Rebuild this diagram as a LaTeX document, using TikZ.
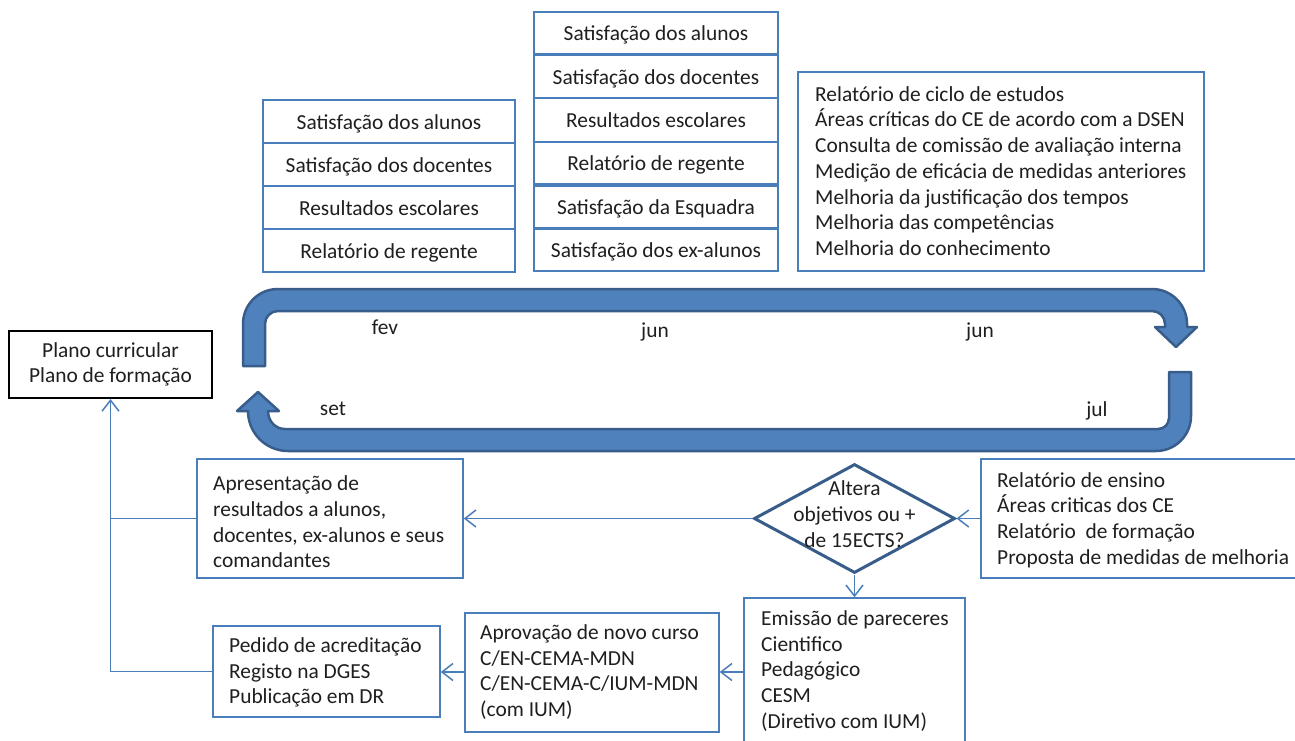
\documentclass[tikz,border=0pt]{standalone}
\usepackage{fontspec}
\setmainfont{Carlito}
\usetikzlibrary{arrows.meta,shapes.geometric}
\definecolor{boxblue}{HTML}{4A7EBB}
\definecolor{arrfill}{HTML}{4F81BD}
\definecolor{arrline}{HTML}{385D8A}
\definecolor{txt}{HTML}{1F1F1F}
\begin{document}
\begin{tikzpicture}[x=1pt,y=-1pt,
  every node/.style={font=\fontsize{21.4}{25.7}\selectfont, text=txt},
  bx/.style={draw=boxblue, line width=1.5pt, inner sep=0pt, align=center},
  one/.style={bx, text height=20pt, text depth=5pt},
  tx/.style={inner sep=0pt, align=left, anchor=west},
  conn/.style={draw=boxblue, line width=1.5pt},
  tip/.style={-{Straight Barb[length=11pt,width=17pt,line width=1.5pt]}},
  band/.style={fill=arrfill, draw=arrline, line width=2.5pt, line join=round},
  lab/.style={inner sep=0pt},
]
\useasboundingbox (0,0) rectangle (1295,740);
\clip (0,0) rectangle (1295,740);
\fill[white] (0,0) rectangle (1295,740);

% left stack
\node[one, minimum width=252pt, minimum height=43pt] (l1) at (389,121.5) {Satisfação dos alunos};
\node[one, minimum width=252pt, minimum height=43pt] (l2) at (389,164.5) {Satisfação dos docentes};
\node[one, minimum width=252pt, minimum height=43pt] (l3) at (389,207.5) {Resultados escolares};
\node[one, minimum width=252pt, minimum height=43pt] (l4) at (389,250.5) {Relatório de regente};

% middle stack
\node[one, minimum width=244pt, minimum height=42pt] (m1) at (656,33) {Satisfação dos alunos};
\node[one, minimum width=244pt, minimum height=43pt] (m2) at (656,76.5) {Satisfação dos docentes};
\node[one, minimum width=244pt, minimum height=44pt] (m3) at (656,120) {Resultados escolares};
\node[one, minimum width=244pt, minimum height=42pt] (m4) at (656,163) {Relatório de regente};
\node[one, minimum width=244pt, minimum height=42pt] (m5) at (656,207) {Satisfação da Esquadra};
\node[one, minimum width=244pt, minimum height=42pt] (m6) at (656,250) {Satisfação dos ex-alunos};

% right top box
\node[bx, minimum width=406pt, minimum height=199pt] (rb) at (1001,171.5) {};
\node[tx] (rbt) at (815,171) {Relatório de ciclo de estudos\\
Áreas críticas do CE de acordo com a DSEN\\
Consulta de comissão de avaliação interna\\
Medição de eficácia de medidas anteriores\\
Melhoria da justificação dos tempos\\
Melhoria das competências\\
Melhoria do conhecimento};

% big cycle arrows
\path[band] (243,366) -- (243,324) .. controls (243,304.7) and (258.3,289) .. (278,289)
  -- (1152,289) .. controls (1171.3,289) and (1187,304.7) .. (1187,324)
  -- (1187,327) -- (1197,327) -- (1176,347) -- (1155,327) -- (1165,327) -- (1165,324)
  .. controls (1165,316.8) and (1159.2,311) .. (1152,311)
  -- (278,311) .. controls (270.8,311) and (265,316.8) .. (265,324) -- (265,366) -- cycle;
\path[band] (1169,372) -- (1191,372) -- (1191,416) .. controls (1191,435.3) and (1175.3,451) .. (1156,451)
  -- (288,451) .. controls (265.9,451) and (248,433.1) .. (248,411)
  -- (237,411) -- (258,392) -- (279,411) -- (268,411)
  .. controls (268,421.4) and (275.6,429) .. (285,429)
  -- (1158,429) .. controls (1164.1,429) and (1169,424.1) .. (1169,418) -- cycle;

\node[lab] (fev) at (385,327) {fev};
\node[lab] (jun1) at (655,332) {jun};
\node[lab] (jun2) at (980,332) {jun};
\node[lab] (set) at (333,409) {set};
\node[lab] (jul) at (1097,411) {jul};

% Plano
\node[draw=black, line width=2pt, minimum width=203pt, minimum height=67pt, inner sep=0pt, align=center] (plano) at (110.5,364.5) {Plano curricular\\Plano de formação};

% Apresentação
\node[bx, minimum width=266pt, minimum height=119pt] (apr) at (330,518.5) {};
\node[tx] (aprt) at (213,522) {Apresentação de\\resultados a alunos,\\docentes, ex-alunos e seus\\comandantes};

% diamond
\node[draw=arrline, line width=3pt, diamond, shape aspect=1.84, minimum width=201pt, minimum height=109pt, inner sep=0pt] (dia) at (854.5,518.5) {};
\node[lab, align=center] (diat) at (854.5,514) {Altera\\objetivos ou +\\de 15ECTS?};

% Relatório de ensino
\node[bx, minimum width=340pt, minimum height=119pt] (ens) at (1151,518.5) {};
\node[tx] (enst) at (997,520) {Relatório de ensino\\Áreas criticas dos CE\\Relatório\ \ de formação\\Proposta de medidas de melhoria};

% Emissão
\node[bx, minimum width=221pt, minimum height=148pt] (emi) at (854.5,672) {};
\node[tx] (emit) at (761,671) {Emissão de pareceres\\Cientifico\\Pedagógico\\CESM\\(Diretivo com IUM)};

% Aprovação
\node[bx, minimum width=254pt, minimum height=119pt] (apv) at (592,672.5) {};
\node[tx] (apvt) at (480,672) {Aprovação de novo curso\\C/EN-CEMA-MDN\\C/EN-CEMA-C/IUM-MDN\\(com IUM)};

% Pedido
\node[bx, minimum width=227pt, minimum height=91pt] (ped) at (326.5,671.5) {};
\node[tx] (pedt) at (229,672.5) {Pedido de acreditação\\Registo na DGES\\Publicação em DR};

% connectors
\draw[conn, tip] (ens.west) -- (dia.east);
\draw[conn, tip] (dia.west) -- (apr.east);
\draw[conn, tip] (dia.south) -- (emi.north);
\draw[conn, tip] (emi.west |- 0,672) -- (apv.east |- 0,672);
\draw[conn, tip] (apv.west |- 0,672) -- (ped.east |- 0,672);
\coordinate (jn) at (plano.south |- ped.west);
\draw[conn, tip] (ped.west) -- (jn) -- (plano.south);
\draw[conn] (apr.west) -- (plano.south |- apr.west);
\end{tikzpicture}
\end{document}
